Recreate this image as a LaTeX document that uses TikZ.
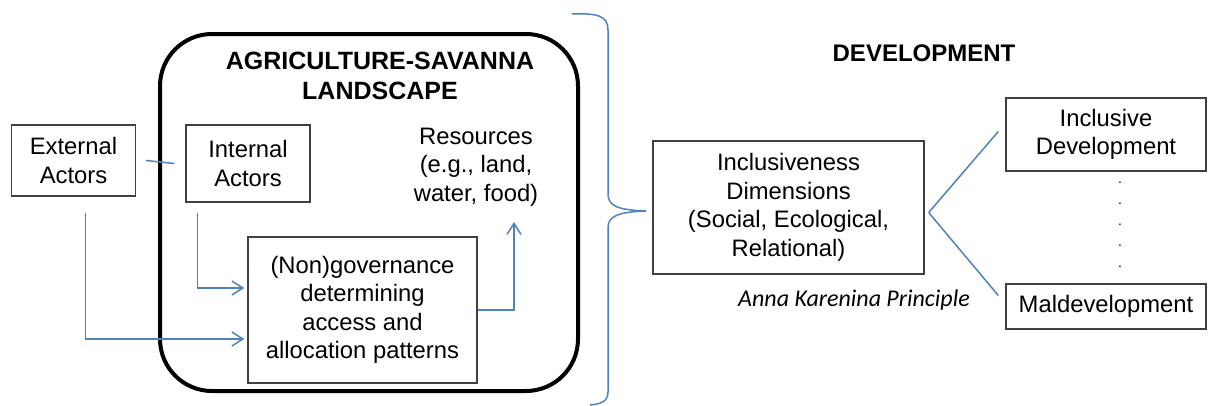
\documentclass[tikz,border=0pt]{standalone}
\usepackage{fontspec}
\setmainfont{Liberation Sans}
\newfontfamily\annafont{Carlito}
\usetikzlibrary{positioning,arrows.meta}
\definecolor{linkblue}{RGB}{79,129,189}
\definecolor{boxgray}{RGB}{64,64,64}

\begin{document}
\begin{tikzpicture}[x=1pt,y=-1pt,
	boxnode/.style={rectangle, draw=boxgray, line width=1.4pt, inner sep=0pt, align=center, font=\fontsize{23.8}{28.5}\selectfont},
	plainnode/.style={inner sep=0pt, align=center, font=\fontsize{23.8}{28.5}\selectfont},
	headnode/.style={inner sep=0pt, align=center, font=\fontsize{24}{29}\selectfont\bfseries},
	]
	\useasboundingbox (0,0) rectangle (1212,405);
	% landscape frame
	\node[rectangle, draw=black, line width=4pt, rounded corners=52pt, minimum width=418pt, minimum height=357pt] (landscape) at (369,212.5) {};
	\node[headnode, font=\fontsize{25}{29.5}\selectfont\bfseries] (landtitle) at (380,76) {AGRICULTURE-SAVANNA\\LANDSCAPE};
	\node[boxnode, minimum width=124pt, minimum height=71pt] (external) at (73.5,160.5) {External\\Actors};
	\node[boxnode, minimum width=124pt, minimum height=77pt] (internal) at (248,163.5) {Internal\\Actors};
	\node[plainnode] (resources) at (476,167) {Resources\\(e.g., land,\\water, food)};
	\node[boxnode, minimum width=229pt, minimum height=146pt] (governance) at (362.5,310) {(Non)governance\\determining\\access and\\allocation patterns};
	\coordinate (restip) at (514,222);
	% development side
	\node[headnode] (devtitle) at (924,53.5) {DEVELOPMENT};
	\node[boxnode, minimum width=271pt, minimum height=133pt] (inclusiveness) at (788.5,207.5) {Inclusiveness\\Dimensions\\(Social, Ecological,\\Relational)};
	\node[inner sep=0pt, font=\fontsize{24}{28}\selectfont\annafont\itshape] (principle) at (854,300) {Anna Karenina Principle};
	\node[boxnode, minimum width=200pt, minimum height=73pt] (incdev) at (1106,134.5) {Inclusive\\Development};
	\node[boxnode, minimum width=200pt, minimum height=45pt] (maldev) at (1106,306.5) {Maldevelopment};
	\node[plainnode, font=\fontsize{14}{21}\selectfont] (dots) at (1120,225) {.\\.\\.\\.\\.};
	\begin{scope}[draw=linkblue, line width=1.5pt, -{Straight Barb[length=11pt,width=14pt]}]
	\draw[-] ([xshift=10pt]external.east) -- ([xshift=-11pt]internal.west);
	\draw ([shift={(12pt,-10pt)}]internal.south west) |- ([shift={(-3pt,22pt)}]governance.west);
	\draw ([shift={(12pt,-16pt)}]external.south) |- ([shift={(-3pt,-29pt)}]governance.west);
	\draw (governance.east) -| (restip);
	\draw[-] ([shift={(4pt,-5pt)}]inclusiveness.east) -- ([shift={(-7pt,3pt)}]incdev.west);
	\draw[-] ([shift={(4pt,-5pt)}]inclusiveness.east) -- ([shift={(-7pt,11pt)}]maldev.west);
	\end{scope}
	% brace
	\draw[linkblue, line width=1.5pt] (572,14) .. controls (598,13) and (608,16) .. (608,30) -- (608,194) .. controls (608,206) and (618,210) .. (646,211) .. controls (618,212) and (608,216) .. (608,228) -- (608,392) .. controls (608,402) and (600,404) .. (590,405);
\end{tikzpicture}
\end{document}
